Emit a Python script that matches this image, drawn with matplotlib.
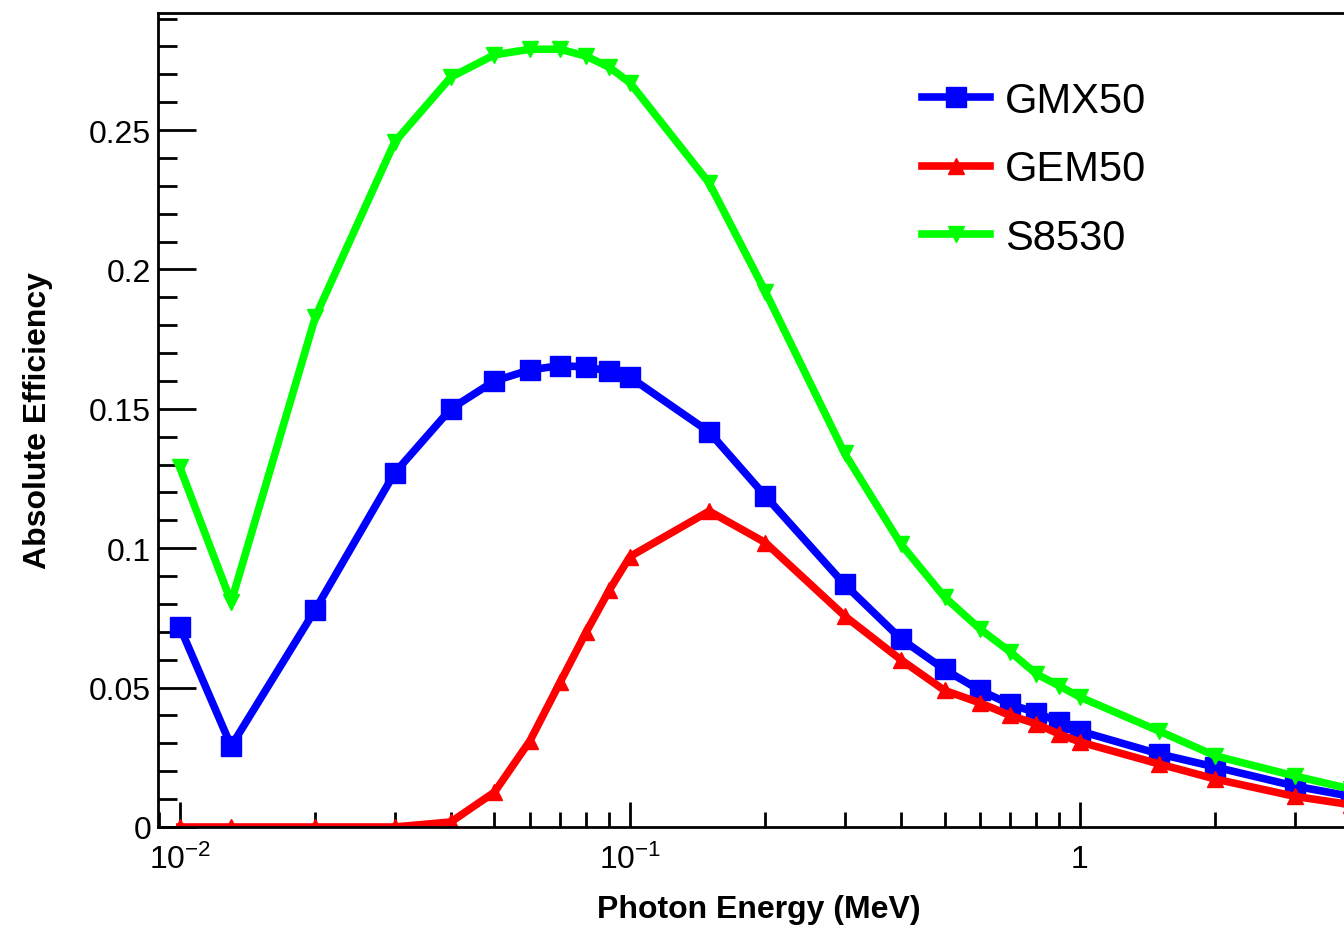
import matplotlib
matplotlib.use('Agg')
import matplotlib.pyplot as plt
from matplotlib.ticker import FixedLocator, FixedFormatter, MultipleLocator, LogLocator, NullFormatter

plt.rcParams['font.family'] = ['Liberation Sans', 'DejaVu Sans']
plt.rcParams['mathtext.fontset'] = 'custom'
plt.rcParams['mathtext.rm'] = 'Liberation Sans'
plt.rcParams['mathtext.it'] = 'Liberation Sans'

# photon energy (MeV) and absolute efficiency
energy = [0.01, 0.013, 0.02, 0.03, 0.04, 0.05, 0.06, 0.07, 0.08, 0.09, 0.1,
          0.15, 0.2, 0.3, 0.4, 0.5, 0.6, 0.7, 0.8, 0.9, 1.0, 1.5, 2.0, 3.0, 4.0]
gmx50 = [0.0717, 0.029, 0.078, 0.127, 0.150, 0.160, 0.164, 0.1655, 0.165, 0.1635, 0.1614,
         0.1417, 0.1187, 0.087, 0.0675, 0.0565, 0.049, 0.044, 0.041, 0.0376, 0.0344,
         0.0262, 0.0215, 0.0147, 0.011]
gem50 = [0.0, 0.0, 0.0, 0.0, 0.0018, 0.0125, 0.031, 0.052, 0.070, 0.085, 0.097,
         0.1133, 0.102, 0.0757, 0.060, 0.049, 0.0445, 0.040, 0.037, 0.0333, 0.0305,
         0.0226, 0.0172, 0.011, 0.008]
s8530 = [0.129, 0.0807, 0.183, 0.2457, 0.269, 0.277, 0.279, 0.279, 0.2765, 0.2725, 0.267,
         0.231, 0.192, 0.134, 0.1015, 0.0825, 0.071, 0.0628, 0.0549, 0.0506, 0.0466,
         0.0344, 0.0255, 0.0183, 0.0136]

W, H = 1344, 929
fig = plt.figure(figsize=(W / 100, H / 100), dpi=100)
# axes runs a little past the right edge, as in the cropped original
left, right, top, bottom = 158, 1360, 14, 828
ax = fig.add_axes([left / W, 1 - bottom / H, (right - left) / W, (bottom - top) / H])

ax.plot(energy, gmx50, color='#0000ff', lw=5.5, marker='s', ms=14, label='GMX50')
ax.plot(energy, gem50, color='#ff0000', lw=5.5, marker='^', ms=12, label='GEM50')
ax.plot(energy, s8530, color='#00ff00', lw=5.5, marker='v', ms=12, label='S8530')

ax.set_xscale('log')
ax.set_xlim(0.00894, 4.19)
ax.set_ylim(0, 0.292)

ax.xaxis.set_major_locator(FixedLocator([0.01, 0.1, 1]))
ax.xaxis.set_major_formatter(FixedFormatter(['$10^{-2}$', '$10^{-1}$', '1']))
ax.xaxis.set_minor_locator(LogLocator(base=10, subs=range(2, 10)))
ax.xaxis.set_minor_formatter(NullFormatter())
ax.yaxis.set_major_locator(MultipleLocator(0.05))
ax.yaxis.set_minor_locator(MultipleLocator(0.01))
ax.yaxis.set_major_formatter(plt.FuncFormatter(lambda v, p: ('%g' % round(v, 3))))

ax.tick_params(axis='y', which='major', direction='in', length=27, width=2, labelsize=23, pad=5)
ax.tick_params(axis='y', which='minor', direction='in', length=14, width=2)
ax.tick_params(axis='x', which='major', direction='in', length=18, width=2, labelsize=23, pad=12)
ax.tick_params(axis='x', which='minor', direction='in', length=11, width=2)
ax.tick_params(top=False, right=False, which='both')
for s in ax.spines.values():
    s.set_linewidth(2)

ax.set_xlabel('Photon Energy (MeV)', fontsize=23, fontweight='bold', labelpad=14)
ax.set_ylabel('Absolute Efficiency', fontsize=23, fontweight='bold', labelpad=26)

ax.legend(loc='upper left', bbox_to_anchor=(922 / W, 1 - 82 / H), bbox_transform=fig.transFigure,
          frameon=False, fontsize=30, handlelength=1.63, handletextpad=0.36,
          labelspacing=0.68, borderpad=0, borderaxespad=0)

fig.savefig('out.png', dpi=100)
